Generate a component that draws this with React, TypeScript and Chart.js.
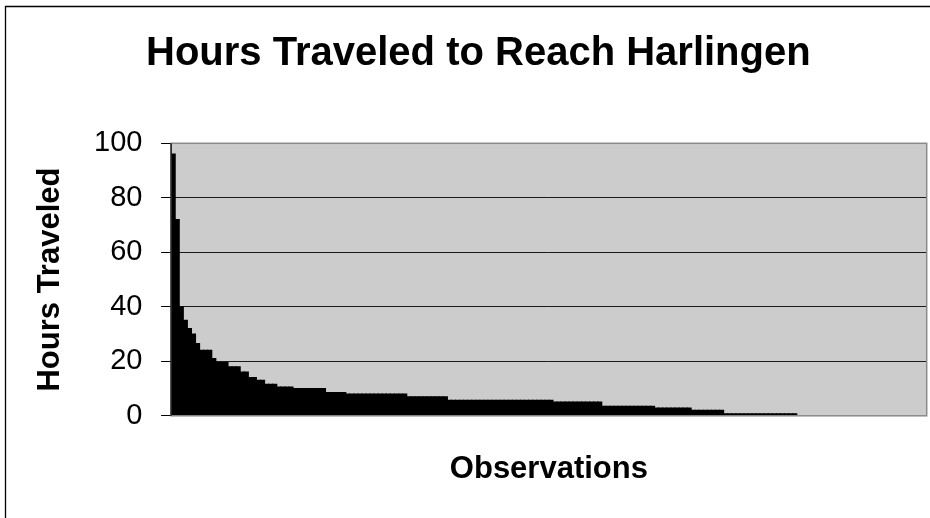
import React, { useEffect, useRef } from "react";
import { Chart, registerables } from "chart.js";

Chart.register(...registerables);

const chartTitle = "Hours Traveled to Reach Harlingen";
const yAxisTitle = "Hours Traveled";
const xAxisTitle = "Observations";
const categoryCount = 186;
const observationLabels = Array.from({ length: categoryCount }, (_, i) => String(i + 1));
const yTicks = [0, 20, 40, 60, 80, 100];

const hoursTraveled = [
  96, 72, 40, 35, 32, 30, 26.5, 24, 24, 24,
  21, 19.5, 19.5, 19.5, 18, 18, 18, 16, 16, 14,
  14, 13, 13, 11.5, 11.5, 11.5, 10.5, 10.5, 10.5, 10.5,
  10, 10, 10, 10, 10, 10, 10, 10, 8.5, 8.5,
  8.5, 8.5, 8.5, 8, 8, 8, 8, 8, 8, 8,
  8, 8, 8, 8, 8, 8, 8, 8, 7, 7,
  7, 7, 7, 7, 7, 7, 7, 7, 5.7, 5.7,
  5.7, 5.7, 5.7, 5.7, 5.7, 5.7, 5.7, 5.7, 5.7, 5.7,
  5.7, 5.7, 5.7, 5.7, 5.7, 5.7, 5.7, 5.7, 5.7, 5.7,
  5.7, 5.7, 5.7, 5.7, 5, 5, 5, 5, 5, 5,
  5, 5, 5, 5, 5, 5, 3.5, 3.5, 3.5, 3.5,
  3.5, 3.5, 3.5, 3.5, 3.5, 3.5, 3.5, 3.5, 3.5, 2.8,
  2.8, 2.8, 2.8, 2.8, 2.8, 2.8, 2.8, 2.8, 2, 2,
  2, 2, 2, 2, 2, 2, 0.7, 0.7, 0.7, 0.7,
  0.7, 0.7, 0.7, 0.7, 0.7, 0.7, 0.7, 0.7, 0.7, 0.7,
  0.7, 0.7, 0.7, 0.7,
];

const FONT = "'Liberation Sans', Arial, sans-serif";

const framePlugin = {
  id: "frame",
  beforeDraw(chart: any) {
    const { ctx, chartArea: a } = chart;
    ctx.save();
    ctx.fillStyle = "#ffffff";
    ctx.fillRect(0, 0, chart.width, chart.height);
    ctx.fillStyle = "#CCCCCC";
    ctx.fillRect(a.left, a.top, a.right - a.left, a.bottom - a.top);
    ctx.strokeStyle = "#000000";
    ctx.lineWidth = 1.3;
    ctx.beginPath();
    ctx.moveTo(5.5, chart.height);
    ctx.lineTo(5.5, 6.5);
    ctx.lineTo(chart.width, 6.5);
    ctx.stroke();
    ctx.restore();
  },
  afterDatasetsDraw(chart: any) {
    const { ctx, chartArea: a } = chart;
    ctx.save();
    ctx.strokeStyle = "#8a8a8a";
    ctx.lineWidth = 1.5;
    ctx.strokeRect(a.left, a.top, a.right - a.left, a.bottom - a.top);
    ctx.strokeStyle = "#000000";
    ctx.lineWidth = 1.2;
    ctx.beginPath();
    ctx.moveTo(a.left, a.top);
    ctx.lineTo(a.left, a.bottom);
    ctx.stroke();
    ctx.restore();
  },
};

export default function App() {
  const canvasRef = useRef<HTMLCanvasElement | null>(null);

  useEffect(() => {
    const canvas = canvasRef.current;
    if (!canvas) return;
    const chart = new Chart(canvas, {
      type: "bar",
      data: {
        labels: observationLabels,
        datasets: [
          {
            data: hoursTraveled,
            backgroundColor: "#000000",
            borderWidth: 0,
            inflateAmount: 0.6,
            categoryPercentage: 1,
            barPercentage: 1,
          },
        ],
      },
      options: {
        responsive: false,
        animation: false,
        devicePixelRatio: 1,
        layout: { padding: { left: 30, right: 3.3, top: 0, bottom: 0 } },
        plugins: {
          legend: { display: false },
          tooltip: { enabled: false },
          title: {
            display: true,
            text: chartTitle,
            color: "#000000",
            font: { family: FONT, size: 40, weight: "bold" },
            padding: { top: 30, bottom: 65.3 },
          },
        },
        scales: {
          x: {
            grid: { display: false, drawTicks: false },
            border: { display: false },
            ticks: { display: false },
            title: {
              display: true,
              text: xAxisTitle,
              color: "#000000",
              font: { family: FONT, size: 31, weight: "bold" },
              padding: { top: 34.6, bottom: 30.4 },
            },
          },
          y: {
            min: 0,
            max: 100,
            afterBuildTicks: (scale: any) => {
              scale.ticks = yTicks.map((v) => ({ value: v }));
            },
            grid: {
              color: (c: any) =>
                c.tick && (c.tick.value === 0 || c.tick.value === 100)
                  ? "rgba(0,0,0,0)"
                  : "#1a1a1a",
              tickColor: "#000000",
              tickLength: 10,
              lineWidth: 1,
            },
            border: { display: false },
            ticks: {
              color: "#000000",
              padding: 18.7,
              font: { family: FONT, size: 29 },
            },
            title: {
              display: true,
              text: yAxisTitle,
              color: "#000000",
              font: { family: FONT, size: 31, weight: "bold" },
              padding: { top: 1.4, bottom: 6.7 },
            },
          },
        },
      },
      plugins: [framePlugin],
    });
    return () => chart.destroy();
  }, []);

  return (
    <div style={{ position: "fixed", left: 0, top: 0, width: 930, height: 518, background: "#fff" }}>
      <canvas ref={canvasRef} width={930} height={518} style={{ display: "block" }} />
    </div>
  );
}
